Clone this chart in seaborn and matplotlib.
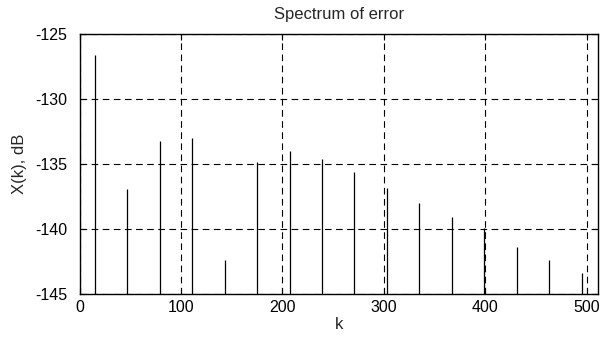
import numpy as np
import seaborn as sns
import matplotlib.pyplot as plt

# spectral lines
k_bins = [15, 47, 79, 111, 143, 175, 207, 239, 271, 303, 335, 367, 399, 431, 463, 495]
level_db = [-126.6, -136.9, -133.2, -133.0, -142.4, -134.8, -134.0, -134.6,
            -135.6, -136.8, -138.0, -139.1, -139.9, -141.4, -142.4, -143.4]
x_ticks = [0, 100, 200, 300, 400, 500]
y_ticks = [-145, -140, -135, -130, -125]

sns.set_style("ticks")
plt.rcParams['font.family'] = ['Liberation Sans', 'DejaVu Sans']
plt.rcParams['axes.unicode_minus'] = False

fig = plt.figure(figsize=(6, 3.38), dpi=100)
ax = fig.add_axes([0.1327, 0.130, 0.8636, 0.768])

# stems from the floor of the axis up to each level
ax.vlines(k_bins, -145, level_db, colors='black', linewidth=0.9)

ax.set_xlim(0, 511)
ax.set_ylim(-145, -125)
ax.set_xticks(x_ticks)
ax.set_yticks(y_ticks)
ax.grid(True, color='black', linestyle=(0, (6, 4)), linewidth=0.8)
ax.tick_params(direction='in', length=4, top=True, right=True, labelsize=11.5,
               colors='black', width=0.8)
ax.tick_params(axis='y', pad=9)
ax.tick_params(axis='x', pad=4)
for s in ax.spines.values():
    s.set_visible(True)
    s.set_color('black')
    s.set_linewidth(1.0)

ax.set_title('Spectrum of error', fontsize=12, pad=11)
ax.set_xlabel('k', fontsize=12, labelpad=2)
ax.set_ylabel('X(k), dB', fontsize=12, labelpad=6)

fig.savefig('out.png', dpi=100)
